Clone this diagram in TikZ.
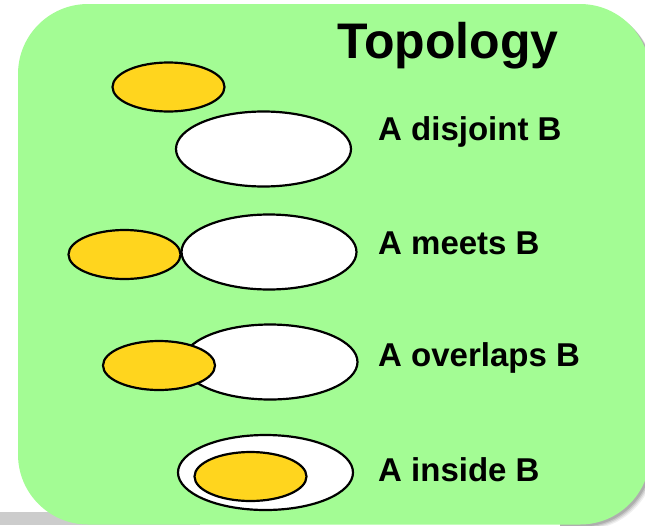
\documentclass[tikz,border=0pt]{standalone}
\usepackage{fontspec}
\setmainfont{Liberation Sans}
\usetikzlibrary{shapes.geometric}
\definecolor{panelgreen}{RGB}{163,252,148}
\definecolor{regionA}{RGB}{255,213,30}
\definecolor{stripgray}{RGB}{204,204,204}
\begin{document}
\begin{tikzpicture}[x=1pt,y=-1pt,
  region/.style={ellipse,draw=black,line width=2.2pt,inner sep=0pt},
  setA/.style={region,fill=regionA,minimum width=112pt,minimum height=49pt},
  setB/.style={region,fill=white,minimum width=175pt,minimum height=75pt},
  title/.style={anchor=base west,inner sep=0pt,font=\bfseries\fontsize{50}{56}\selectfont},
  relation/.style={anchor=base west,inner sep=0pt,font=\bfseries\fontsize{33}{38}\selectfont},
  panel/.style={rounded corners=70pt}]
\useasboundingbox (0,0) rectangle (645,525);
\begin{scope}
\clip (0,0) rectangle (645,525);
% grey strip along the lower left edge
\fill[stripgray] (0,512) rectangle (200,525);
% soft shadow round the right-hand corners
\begin{scope}
\clip (560,0) rectangle (645,525);
\foreach \s/\o in {5/0.06,4/0.08,3/0.1,2/0.12}
  \fill[black, opacity=\o, panel] (18+\s,4+\s) rectangle (650+\s,524.5+\s);
\end{scope}
% rounded green panel
\fill[panelgreen, panel] (18,4) rectangle (650,524.5);
\end{scope}

\node[title] (topo) at (337,58) {Topology};

% disjoint
\node[setA] (a1) at (168.5,87) {};
\node[setB] (b1) at (263.5,149) {};
\node[relation] (t1) at (378,140) {A disjoint B};

% meets
\node[setB] (b2) at (269,252) {};
\node[setA] (a2) at (124.5,254.5) {};
\node[relation] (t2) at (378,254) {A meets B};

% overlaps
\node[setB] (b3) at (270,362) {};
\node[setA] (a3) at (159,365.5) {};
\node[relation] (t3) at (378,366) {A overlaps B};

% inside
\node[setB] (b4) at (265.5,472.5) {};
\node[setA] (a4) at (250.5,476.5) {};
\node[relation] (t4) at (378,481) {A inside B};
\end{tikzpicture}
\end{document}
